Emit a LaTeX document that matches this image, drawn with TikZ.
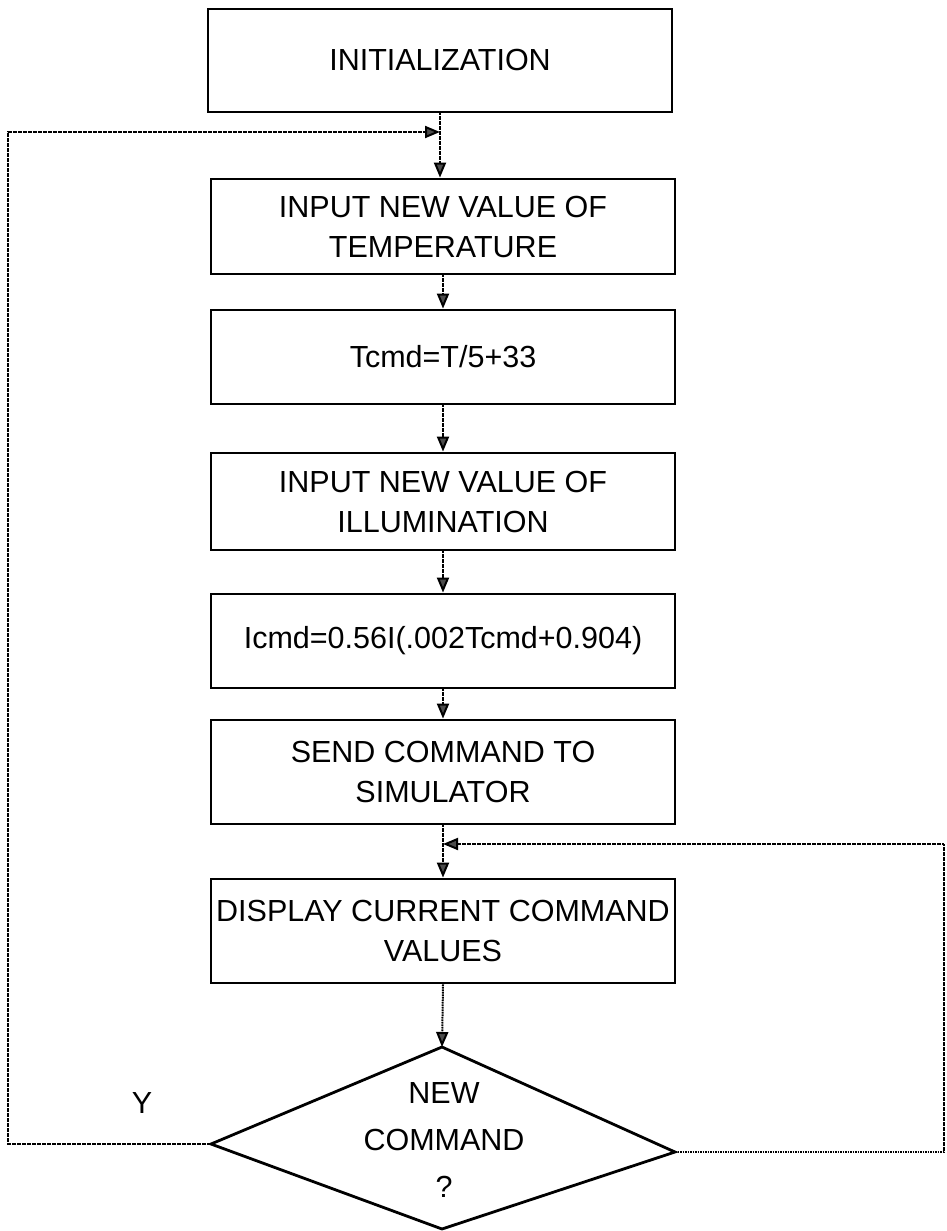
\documentclass[tikz,border=0pt]{standalone}
\usepackage{fontspec}
\setmainfont{Liberation Sans}
\usetikzlibrary{arrows.meta}
\begin{document}
\begin{tikzpicture}[x=1pt,y=-1pt,
  box/.style={draw,line width=2.8pt,minimum width=464pt,inner sep=0pt,align=center,
    font=\fontsize{30.5}{40}\selectfont},
  dotline/.style={line width=2pt,dash pattern=on 1.6pt off 0.9pt},
  link/.style={dotline,-{Triangle[length=15pt,width=12pt,fill=black!70]}},
  lbl/.style={font=\fontsize{30.5}{40}\selectfont,inner sep=0pt}]
\useasboundingbox (0,0) rectangle (946,1231);
\node[box,minimum height=103pt] (init) at (440,60.5) {INITIALIZATION};
\node[box,minimum height=95pt] (inT) at (443,226.5) {INPUT NEW VALUE OF\\TEMPERATURE};
\node[box,minimum height=94pt] (tcmd) at (443,357) {Tcmd=T/5+33};
\node[box,minimum height=97pt] (inI) at (443,501.5) {INPUT NEW VALUE OF\\ILLUMINATION};
\node[box,minimum height=94pt] (icmd) at (443,641) {Icmd=0.56I(.002Tcmd+0.904)};
\node[box,minimum height=104pt] (send) at (443,772) {SEND COMMAND TO\\SIMULATOR};
\node[box,minimum height=104pt] (disp) at (443,931) {DISPLAY CURRENT COMMAND\\VALUES};
% decision
\coordinate (dtop) at (442,1047);
\coordinate (dbot) at (442,1229);
\coordinate (dleft) at (211,1144);
\coordinate (dright) at (675,1152);
\draw[line width=2.8pt,line join=miter] (dtop) -- (dright) -- (dbot) -- (dleft) -- cycle;
\node[lbl,align=center,font=\fontsize{30.5}{47}\selectfont] (dtxt) at (444,1140) {NEW\\COMMAND\\?};
\node[lbl] (ylab) at (142,1103) {Y};
% junctions and corners
\coordinate (jt) at (init.south |- 0,132);
\coordinate (jr) at (send.south |- 0,844);
\coordinate (lc1) at (8,1144);
\coordinate (lc2) at (8,132);
\coordinate (rc1) at (944,1152);
\coordinate (rc2) at (944,844);
% connectors
\draw[link] (init.south) -- (inT.north -| init.south);
\draw[link] (inT.south) -- (tcmd.north);
\draw[link] (tcmd.south) -- (inI.north);
\draw[link] (inI.south) -- (icmd.north);
\draw[link] (icmd.south) -- (send.north);
\draw[link] (send.south) -- (disp.north);
\draw[link] (disp.south) -- (dtop);
\draw[link] (dleft) -- (lc1) -- (lc2) -- (jt);
\draw[link] (dright) -- (rc1) -- (rc2) -- (jr);
\end{tikzpicture}
\end{document}
